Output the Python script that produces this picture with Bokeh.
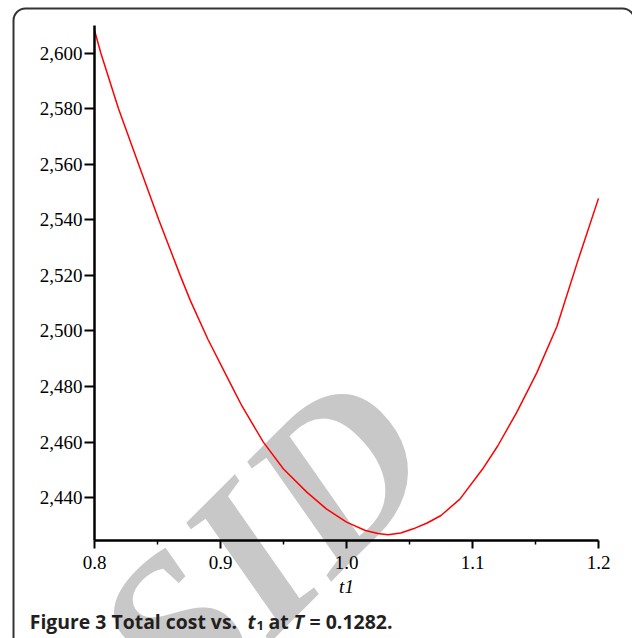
import numpy as np
from bokeh.plotting import figure
from bokeh.models import (Range1d, FixedTicker, NumeralTickFormatter, PrintfTickFormatter,
                          Label, BoxAnnotation)
from bokeh.embed import file_html
from bokeh.resources import INLINE

# ---- data ----
t1 = [0.800, 0.805, 0.819, 0.835, 0.851, 0.868, 0.876, 0.890, 0.9075, 0.917, 0.934,
      0.950, 0.9685, 0.984, 1.000, 1.015, 1.025, 1.033, 1.043, 1.053, 1.064, 1.075,
      1.090, 1.108, 1.120, 1.135, 1.151, 1.167, 1.183, 1.200]
total_cost = [2608.2, 2600.0, 2580.0, 2560.0, 2540.0, 2520.0, 2511.0, 2497.0, 2481.4, 2473.0,
              2460.0, 2450.3, 2442.0, 2436.0, 2431.2, 2428.2, 2427.1, 2426.7, 2427.3, 2428.8,
              2430.9, 2433.6, 2439.5, 2450.3, 2458.6, 2470.6, 2484.9, 2501.6, 2524.4, 2547.7]
x_ticks = [0.8, 0.9, 1.0, 1.1, 1.2]
x_minor_ticks = [0.85, 0.95, 1.05, 1.15]
y_ticks = [2440, 2460, 2480, 2500, 2520, 2540, 2560, 2580, 2600]
x_label = "t1"
caption_parts = ["Figure 3 Total cost vs.", "t", "1", "at", "T", "= 0.1282."]
watermark = "SID"

x_lo, x_hi = 0.8, 1.2
y_lo, y_hi = 2424.6, 2609.9

# ---- layout (pixel placement of the axes box inside the canvas) ----
W, H = 632, 638
PX_L, PX_R, PY_T, PY_B = 94, 598, 25, 540
sx = (x_hi - x_lo) / (PX_R - PX_L)
sy = (y_hi - y_lo) / (PY_B - PY_T)
xs, xe = x_lo - PX_L * sx, x_hi + (W - PX_R) * sx
ys, ye = y_lo - (H - PY_B) * sy, y_hi + PY_T * sy

def dx(px):
    return xs + px * sx

def dy(py):
    return ye - py * sy

p = figure(width=W, height=H, x_range=Range1d(xs, xe), y_range=Range1d(ys, ye),
           output_backend="svg", toolbar_location=None, min_border=0)
p.outline_line_color = None
p.xgrid.visible = False
p.ygrid.visible = False
p.background_fill_color = "white"
p.border_fill_color = "white"

# watermark (behind everything)
p.add_layout(Label(x=dx(262), y=dy(545), text=watermark, text_font="Liberation Serif",
                   text_font_style="bold italic", text_font_size="220px",
                   text_color="#c8c8c8", angle=np.pi / 4, text_align="center",
                   text_baseline="middle", level="underlay"))

p.line(t1, total_cost, line_color="#ff0000", line_width=1.5)

# axes
xa = p.xaxis[0]
xa.fixed_location = y_lo
xa.bounds = (x_lo, x_hi)
xa.ticker = FixedTicker(ticks=x_ticks, minor_ticks=x_minor_ticks)
xa.formatter = PrintfTickFormatter(format="%.1f")
ya = p.yaxis[0]
ya.fixed_location = x_lo
ya.bounds = (y_lo, y_hi)
ya.ticker = FixedTicker(ticks=y_ticks, minor_ticks=[])
ya.formatter = NumeralTickFormatter(format="0,0")
for ax in (xa, ya):
    ax.axis_line_width = 2.5
    ax.axis_line_color = "black"
    ax.major_tick_line_width = 2
    ax.major_tick_line_color = "black"
    ax.major_tick_in = 0
    ax.minor_tick_in = 0
    ax.minor_tick_line_width = 1.5
    ax.minor_tick_line_color = "black"
    ax.major_label_text_font = "Liberation Serif"
    ax.major_label_text_font_size = "19px"
    ax.major_label_text_color = "black"
xa.major_tick_out = 8
xa.minor_tick_out = 4
xa.major_label_standoff = 7
ya.major_tick_out = 10
ya.minor_tick_out = 0
ya.minor_tick_line_color = None
ya.major_label_standoff = 2
xa.axis_label = x_label
xa.axis_label_text_font = "Liberation Serif"
xa.axis_label_text_font_style = "italic"
xa.axis_label_text_font_size = "19px"
xa.axis_label_text_color = "black"
xa.axis_label_standoff = 4

# rounded frame
p.add_layout(BoxAnnotation(left=13, right=634, top=8, bottom=720,
                           left_units="canvas", right_units="canvas",
                           top_units="canvas", bottom_units="canvas",
                           fill_color=None, fill_alpha=0, line_color="#333333",
                           line_alpha=1.0, line_width=2, border_radius=12))

# caption
cap_col = "#231f20"
base = dy(621)
sub_base = dy(625)
specs = [
    (caption_parts[0], 29.3, base, "bold", "19.4px"),
    (caption_parts[1], 247, base, "bold italic", "19.5px"),
    (caption_parts[2], 256, sub_base, "bold", "13px"),
    (caption_parts[3], 268, base, "bold", "19.5px"),
    (caption_parts[4], 293, base, "bold italic", "19.5px"),
    (caption_parts[5], 309, base, "bold", "19.5px"),
]
for txt, px, y, style, size in specs:
    p.add_layout(Label(x=dx(px), y=y, text=txt, text_font="Open Sans", text_font_style=style,
                       text_font_size=size, text_color=cap_col, text_baseline="alphabetic",
                       text_align="left"))

open("out.html", "w").write(file_html(p, INLINE))
